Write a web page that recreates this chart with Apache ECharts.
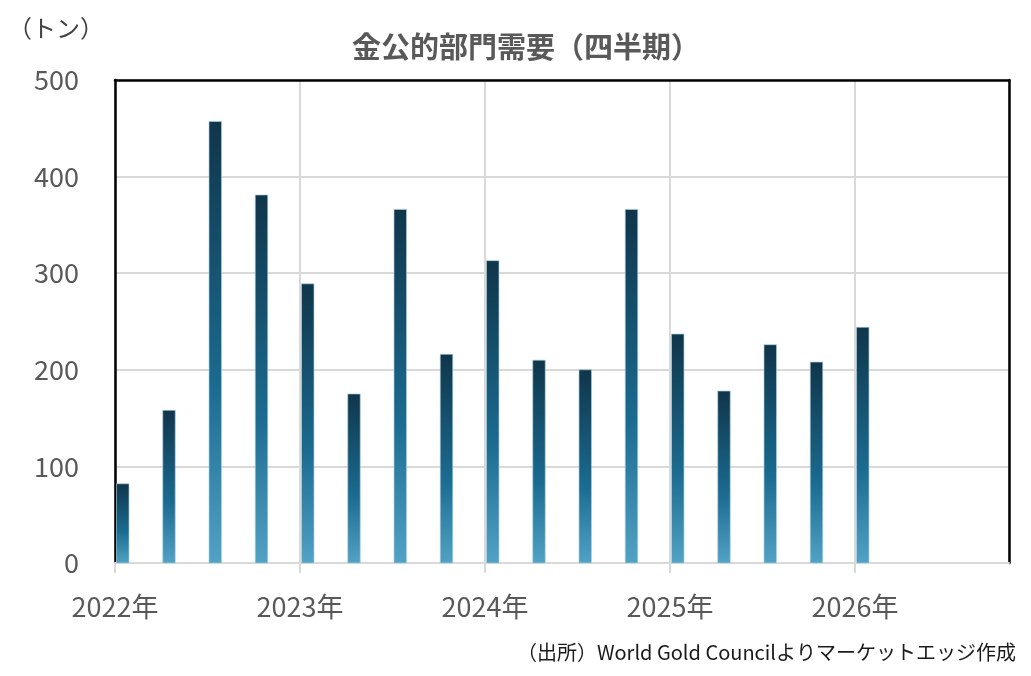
<!DOCTYPE html>
<html>
<head>
<meta charset="utf-8">
<script src="https://cdn.jsdelivr.net/npm/echarts@6/dist/echarts.min.js"></script>
<style>
html,body{margin:0;padding:0;background:#fff;}
#chart{width:1031px;height:676px;}
</style>
</head>
<body>
<div id="chart"></div>
<script>
// Quarter index (0 = 2022 Q1) and central bank gold demand (tonnes)
var quarters = ['2022Q1','2022Q2','2022Q3','2022Q4','2023Q1','2023Q2','2023Q3','2023Q4','2024Q1','2024Q2','2024Q3','2024Q4','2025Q1','2025Q2','2025Q3','2025Q4','2026Q1'];
var quarterIndex = [0,1,2,3,4,5,6,7,8,9,10,11,12,13,14,15,16];
var demand = [82,158,457,381,289,175,366,216,313,210,200,366,237,178,226,208,244];
var yearLabels = ['2022年','2023年','2024年','2025年','2026年'];
var yearTicks = [0,4,8,12,16];
var yTicks = [0,100,200,300,400,500];

var FONT = '"Noto Sans CJK JP","Noto Sans",sans-serif';
var GRID = '#d9d9d9';

var chart = echarts.init(document.getElementById('chart'));
var seriesData = quarterIndex.map(function(q,i){return [q, demand[i]];});

var barFill = new echarts.graphic.LinearGradient(0,0,0,1,[
  {offset:0,color:'#10354a'},
  {offset:0.6,color:'#1b6b90'},
  {offset:1,color:'#52a2c6'}
]);

chart.setOption({
  animation:false,
  backgroundColor:'#fff',
  title:{
    text:'金公的部門需要（四半期）',
    left:521, top:27, textAlign:'center',
    textStyle:{fontFamily:FONT,fontSize:29,fontWeight:'bold',color:'#595959'}
  },
  graphic:[
    {type:'text',left:8,top:16,style:{text:'（トン）',fontFamily:FONT,fontSize:24,fill:'#404040'}},
    {type:'text',right:15,top:642,style:{text:'（出所）World Gold Councilよりマーケットエッジ作成',fontFamily:FONT,fontSize:20,fill:'#1a1a1a'}}
  ],
  grid:{left:115,right:22,top:80,bottom:113,containLabel:false},
  xAxis:[{
    type:'value', min:0, max:19.33, interval:4,
    axisLine:{show:true,onZero:false,lineStyle:{color:GRID,width:2}},
    axisTick:{show:true,inside:false,length:10,lineStyle:{color:GRID,width:2}},
    axisLabel:{margin:30,fontFamily:FONT,fontSize:27,color:'#595959',showMaxLabel:false,
      formatter:function(v){var i=yearTicks.indexOf(Math.round(v));return (Math.abs(v-Math.round(v))<1e-6&&i>=0)?yearLabels[i]:'';}},
    splitLine:{show:true,lineStyle:{color:GRID,width:2}}
  },{
    type:'value', position:'top', min:0, max:19.33,
    axisLine:{show:true,onZero:false,lineStyle:{color:'#000',width:2.5}},
    axisTick:{show:false},axisLabel:{show:false},splitLine:{show:false}
  }],
  yAxis:[{
    type:'value', min:0, max:500, interval:100,
    axisLine:{show:true,onZero:false,lineStyle:{color:'#000',width:2.5}},
    axisTick:{show:false},
    axisLabel:{margin:36,fontFamily:FONT,fontSize:27,color:'#595959'},
    splitLine:{show:true,lineStyle:{color:GRID,width:2}}
  },{
    type:'value', position:'right', min:0, max:500,
    axisLine:{show:true,onZero:false,lineStyle:{color:'#000',width:2.5}},
    axisTick:{show:false},axisLabel:{show:false},splitLine:{show:false}
  }],
  series:[{
    type:'custom',
    xAxisIndex:0, yAxisIndex:0,
    data:seriesData,
    encode:{x:0,y:1},
    renderItem:function(params,api){
      var top = api.coord([api.value(0), api.value(1)]);
      var base = api.coord([api.value(0), 0]);
      return {
        type:'rect',
        shape:{x:base[0]+1.5, y:top[1], width:12.5, height:base[1]-top[1]},
        style:{fill:barFill, stroke:'rgba(170,210,228,0.6)', lineWidth:0.6},
        z2:10
      };
    }
  }]
});

// Year tick marks below the x axis, positioned through the axis scale
var tickLines = yearTicks.map(function(t){
  var p = chart.convertToPixel({xAxisIndex:0,yAxisIndex:0},[t,0]);
  return {type:'line',shape:{x1:p[0],y1:p[1],x2:p[0],y2:p[1]+10},style:{stroke:GRID,lineWidth:2},z:5};
});
chart.setOption({graphic:tickLines.length?[
  {type:'text',left:8,top:16,style:{text:'（トン）',fontFamily:FONT,fontSize:24,fill:'#404040'}},
  {type:'text',right:15,top:642,style:{text:'（出所）World Gold Councilよりマーケットエッジ作成',fontFamily:FONT,fontSize:20,fill:'#1a1a1a'}},
  {type:'group',children:tickLines}
]:[]});
</script>
</body>
</html>
